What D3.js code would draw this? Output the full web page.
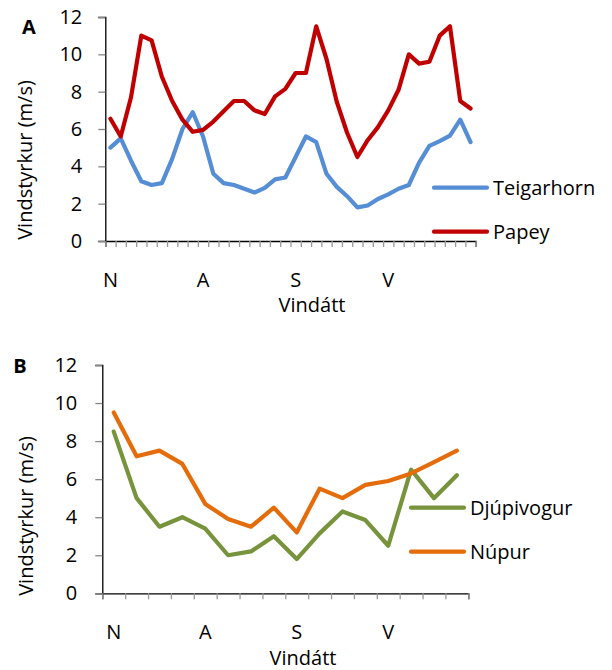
<!DOCTYPE html>
<html>
<head>
<meta charset="utf-8">
<script src="https://cdn.jsdelivr.net/npm/d3@7"></script>
<style>
  body { margin: 0; background: #fff; }
  text { font-family: "Open Sans", sans-serif; fill: #000; }
</style>
</head>
<body>
<div id="chart"></div>
<script>
// Panel A: wind direction every 10 degrees
const dirsA = [0,10,20,30,40,50,60,70,80,90,100,110,120,130,140,150,160,170,
               180,190,200,210,220,230,240,250,260,270,280,290,300,310,320,330,340,350];
const teigarhorn = [5.0,5.5,4.3,3.2,3.0,3.1,4.4,6.0,6.9,5.6,3.6,3.1,3.0,2.8,2.6,2.85,3.3,3.4,
                    4.5,5.6,5.3,3.6,2.9,2.4,1.8,1.9,2.25,2.5,2.8,3.0,4.2,5.1,5.35,5.65,6.5,5.3];
const papey = [6.55,5.6,7.7,11.0,10.75,8.8,7.5,6.5,5.85,5.95,6.4,6.95,7.5,7.5,7.0,6.8,7.75,8.15,
               9.0,9.0,11.5,9.75,7.45,5.8,4.5,5.4,6.1,7.0,8.1,10.0,9.5,9.6,11.0,11.5,7.5,7.1];

// Panel B: wind direction every 22.5 degrees
const dirsB = [0,22.5,45,67.5,90,112.5,135,157.5,180,202.5,225,247.5,270,292.5,315,337.5];
const djupivogur = [8.5,5.0,3.5,4.0,3.4,2.0,2.2,3.0,1.8,3.15,4.3,3.85,2.5,6.5,5.0,6.2];
const nupur = [9.5,7.2,7.5,6.8,4.7,3.9,3.5,4.5,3.2,5.5,5.0,5.7,5.9,6.3,6.9,7.5];

const dirLabels = {0: "N", 90: "A", 180: "S", 270: "V"};
const yTicks = [0,2,4,6,8,10,12];

const svg = d3.select("#chart").append("svg")
  .attr("width", 612).attr("height", 670);

function panel(cfg) {
  const g = svg.append("g");
  const x = d3.scaleBand().domain(cfg.dirs).range([cfg.left, cfg.right]).padding(0);
  const xEdge = d3.scaleLinear().domain([0, cfg.dirs.length]).range([cfg.left, cfg.right]);
  const y = d3.scaleLinear().domain([0, 12]).range([cfg.bottom, cfg.top]);
  const cx = d => x(d) + x.bandwidth() / 2;

  // y axis
  const ya = g.append("g").attr("transform", `translate(${cfg.left},0)`)
    .call(d3.axisLeft(y).tickValues(yTicks).tickSize(7).tickPadding(cfg.yPad));
  ya.select(".domain").attr("stroke", "#000").attr("stroke-width", 1.3);
  ya.selectAll(".tick line").attr("stroke", "#888").attr("stroke-width", 1.3);
  ya.selectAll(".tick text").style("font-size", "20px").style("font-family", "Open Sans");

  // x axis: tick marks at category edges
  const xa = g.append("g").attr("transform", `translate(0,${cfg.bottom})`)
    .call(d3.axisBottom(xEdge).tickValues(d3.range(cfg.dirs.length + 1)).tickSize(6).tickFormat(""));
  xa.select(".domain").attr("stroke", "#000").attr("stroke-width", 1.3);
  xa.selectAll(".tick line").attr("stroke", "#999").attr("stroke-width", 1.3);

  g.selectAll(".dirlab").data(cfg.dirs.filter(d => dirLabels[d] !== undefined))
    .enter().append("text")
    .attr("x", cx).attr("y", cfg.labY)
    .attr("text-anchor", "middle")
    .style("font-size", "20px")
    .text(d => dirLabels[d]);

  // axis titles
  g.append("text").attr("x", cfg.xTitleX).attr("y", cfg.xTitleY)
    .attr("text-anchor", "middle").style("font-size", "20px").text("Vindátt");
  g.append("text")
    .attr("transform", `translate(${cfg.yTitleX},${cfg.yTitleY}) rotate(-90)`)
    .attr("text-anchor", "middle").style("font-size", "20px").text("Vindstyrkur (m/s)");

  // panel letter
  g.append("text").attr("x", cfg.letterX).attr("y", cfg.letterY)
    .attr("text-anchor", "middle").style("font-size", "20px").style("font-weight", "bold")
    .text(cfg.letter);

  const line = d3.line().x((d, i) => cx(cfg.dirs[i])).y(d => y(d));

  cfg.series.forEach((s, i) => {
    g.append("path").datum(s.values)
      .attr("d", line)
      .attr("fill", "none")
      .attr("stroke", s.color)
      .attr("stroke-width", 4.2)
      .attr("stroke-linejoin", "round")
      .attr("stroke-linecap", "round");

    const ly = cfg.legY + i * cfg.legGap;
    g.append("line")
      .attr("x1", cfg.legX).attr("x2", cfg.legX + cfg.legLen)
      .attr("y1", ly).attr("y2", ly)
      .attr("stroke", s.color).attr("stroke-width", 4.2).attr("stroke-linecap", "round");
    g.append("text")
      .attr("x", cfg.legX + cfg.legLen + 6).attr("y", ly + 7.5)
      .style("font-size", "20px")
      .text(s.name);
  });
}

panel({
  dirs: dirsA, left: 105.3, right: 475.7, top: 17, bottom: 241, yPad: 16,
  labY: 287, xTitleX: 312, xTitleY: 312, yTitleX: 32, yTitleY: 160,
  letter: "A", letterX: 29, letterY: 34,
  legX: 434, legLen: 53, legY: 187.7, legGap: 44,
  series: [
    {name: "Teigarhorn", values: teigarhorn, color: "#558ed5"},
    {name: "Papey", values: papey, color: "#c00000"}
  ]
});

panel({
  dirs: dirsB, left: 102.3, right: 468.3, top: 365, bottom: 593.3, yPad: 18,
  labY: 639, xTitleX: 303, xTitleY: 665, yTitleX: 33, yTitleY: 516,
  letter: "B", letterX: 20, letterY: 373,
  legX: 411, legLen: 53, legY: 507.7, legGap: 44,
  series: [
    {name: "Djúpivogur", values: djupivogur, color: "#77933c"},
    {name: "Núpur", values: nupur, color: "#e46c0a"}
  ]
});
</script>
</body>
</html>
